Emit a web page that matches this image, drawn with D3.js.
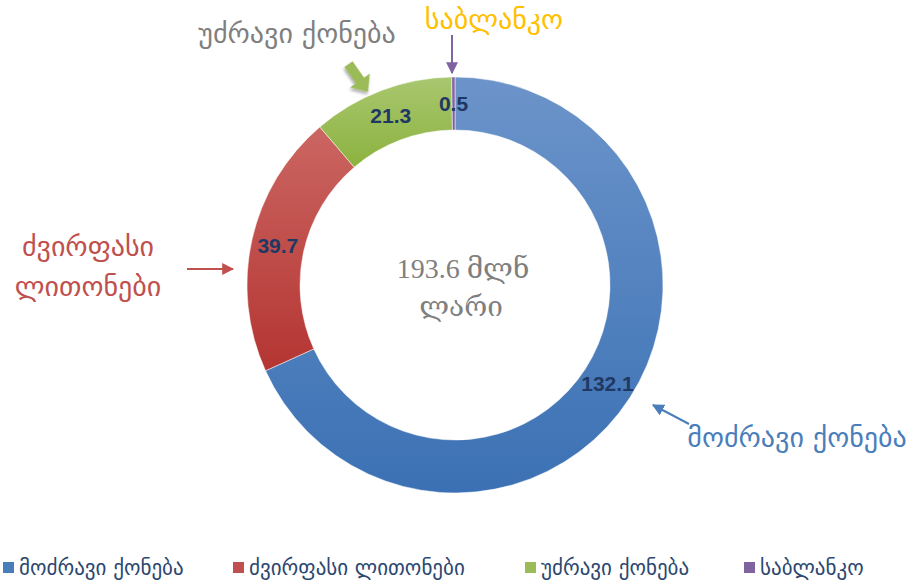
<!DOCTYPE html>
<html>
<head>
<meta charset="utf-8">
<script src="https://cdn.jsdelivr.net/npm/d3@7"></script>
<style>
  html, body { margin: 0; padding: 0; background: #fff; }
  svg { display: block; }
  .val { font-family: "Liberation Sans", "DejaVu Sans", sans-serif; font-weight: bold; font-size: 21px; fill: #1f3864; }
  .center { font-family: "Liberation Serif", "DejaVu Serif", serif; font-size: 28px; fill: #7f7f7f; }
  .callout { font-family: "DejaVu Sans", sans-serif; font-size: 28px; }
  .legend text { font-family: "DejaVu Sans", sans-serif; font-size: 21px; fill: #2c4770; }
</style>
</head>
<body>
<div id="chart"></div>
<script>
// categories and values (million GEL)
const categories = ["მოძრავი ქონება", "ძვირფასი ლითონები", "უძრავი ქონება", "საბლანკო"];
const values = [132.1, 39.7, 21.3, 0.5];
const valueLabels = ["132.1", "39.7", "21.3", "0.5"];
const totalLabel = ["193.6 მლნ", "ლარი"];
// gradient stops (top, bottom) per slice
const colorsTop = ["#6c94ca", "#cb6662", "#a9c76f", "#8669a8"];
const colorsBottom = ["#3b71b4", "#b43532", "#8cb23f", "#7a5d9c"];
const legendColors = ["#4a7ebb", "#c0504d", "#9bbb59", "#8064a2"];

const width = 907, height = 584;
const cx = 455, cy = 285, outerR = 208, innerR = 155;

const svg = d3.select("#chart").append("svg")
  .attr("width", width).attr("height", height);

const defs = svg.append("defs");
categories.forEach((c, i) => {
  const g = defs.append("linearGradient").attr("id", "grad" + i)
    .attr("x1", 0).attr("y1", 0).attr("x2", 0).attr("y2", 1);
  g.append("stop").attr("offset", "0%").attr("stop-color", colorsTop[i]);
  g.append("stop").attr("offset", "100%").attr("stop-color", colorsBottom[i]);
});

// arrow heads for callouts
const arrowColors = { blue: "#4a7ebb", red: "#c0504d", purple: "#7f64a2" };
Object.entries(arrowColors).forEach(([k, col]) => {
  defs.append("marker").attr("id", "arrow-" + k)
    .attr("viewBox", "0 0 10 10").attr("refX", 9).attr("refY", 5)
    .attr("markerWidth", 6).attr("markerHeight", 6)
    .attr("markerUnits", "strokeWidth")
    .attr("orient", "auto")
    .append("path").attr("d", "M0,0 L10,5 L0,10 Z").attr("fill", col);
});
const shadow = defs.append("filter").attr("id", "shadow").attr("x", "-50%").attr("y", "-50%").attr("width", "200%").attr("height", "200%");
shadow.append("feDropShadow").attr("dx", 1.5).attr("dy", 2).attr("stdDeviation", 1.5).attr("flood-color", "#000").attr("flood-opacity", 0.35);

const data = categories.map((c, i) => ({ name: c, value: values[i], label: valueLabels[i], i }));

const pie = d3.pie().sort(null).value(d => d.value);
const arc = d3.arc().innerRadius(innerR).outerRadius(outerR);
const arcs = pie(data);

const plot = svg.append("g").attr("transform", `translate(${cx},${cy})`);

plot.selectAll("path.slice").data(arcs).enter().append("path")
  .attr("class", "slice")
  .attr("d", arc)
  .attr("fill", d => `url(#grad${d.data.i})`)
  .attr("stroke", "#fff").attr("stroke-width", 0.5);

plot.selectAll("text.val").data(arcs).enter().append("text")
  .attr("class", "val")
  .attr("text-anchor", "middle")
  .attr("dominant-baseline", "central")
  .attr("x", d => arc.centroid(d)[0])
  .attr("y", d => arc.centroid(d)[1])
  .text(d => d.data.label);

// centre total
plot.selectAll("text.center").data(totalLabel).enter().append("text")
  .attr("class", "center")
  .attr("text-anchor", "middle")
  .attr("x", (d, i) => i === 0 ? 8 : 6)
  .attr("y", (d, i) => -7 + i * 38)
  .text(d => d);

// callouts
svg.append("text").attr("class", "callout").attr("fill", "#7f7f7f")
  .attr("x", 297).attr("y", 43).attr("text-anchor", "middle").text(categories[2]);
svg.append("text").attr("class", "callout").attr("fill", "#ffc000")
  .attr("x", 494).attr("y", 29).attr("text-anchor", "middle").text(categories[3]);
svg.append("text").attr("class", "callout").attr("fill", "#c0504d")
  .attr("x", 88).attr("y", 256).attr("text-anchor", "middle").text("ძვირფასი");
svg.append("text").attr("class", "callout").attr("fill", "#c0504d")
  .attr("x", 88).attr("y", 296).attr("text-anchor", "middle").text("ლითონები");
svg.append("text").attr("class", "callout").attr("fill", "#4a7ebb")
  .attr("x", 797).attr("y", 447).attr("text-anchor", "middle").text(categories[0]);

// callout arrows
svg.append("line").attr("x1", 452).attr("y1", 35).attr("x2", 452).attr("y2", 73)
  .attr("stroke", arrowColors.purple).attr("stroke-width", 2).attr("marker-end", "url(#arrow-purple)");
svg.append("line").attr("x1", 187).attr("y1", 269).attr("x2", 233).attr("y2", 269)
  .attr("stroke", arrowColors.red).attr("stroke-width", 2).attr("marker-end", "url(#arrow-red)");
svg.append("line").attr("x1", 689).attr("y1", 424).attr("x2", 653).attr("y2", 405)
  .attr("stroke", arrowColors.blue).attr("stroke-width", 2).attr("marker-end", "url(#arrow-blue)");
// thick green block arrow
const gA = svg.append("g").attr("transform", "translate(368,92) rotate(55)").attr("filter", "url(#shadow)");
gA.append("path").attr("d", "M0,0 L-14,-12 L-14,-5 L-34,-5 L-34,5 L-14,5 L-14,12 Z").attr("fill", "#9bbb59");

// legend
const legend = svg.append("g").attr("class", "legend");
const legendX = [3, 233, 525, 744];
const items = legend.selectAll("g").data(categories).enter().append("g")
  .attr("transform", (d, i) => `translate(${legendX[i]},562)`);
items.append("rect").attr("width", 11).attr("height", 11).attr("fill", (d, i) => legendColors[i]);
items.append("text").attr("x", 16).attr("y", 6).attr("dominant-baseline", "central").text(d => d);
</script>
</body>
</html>
